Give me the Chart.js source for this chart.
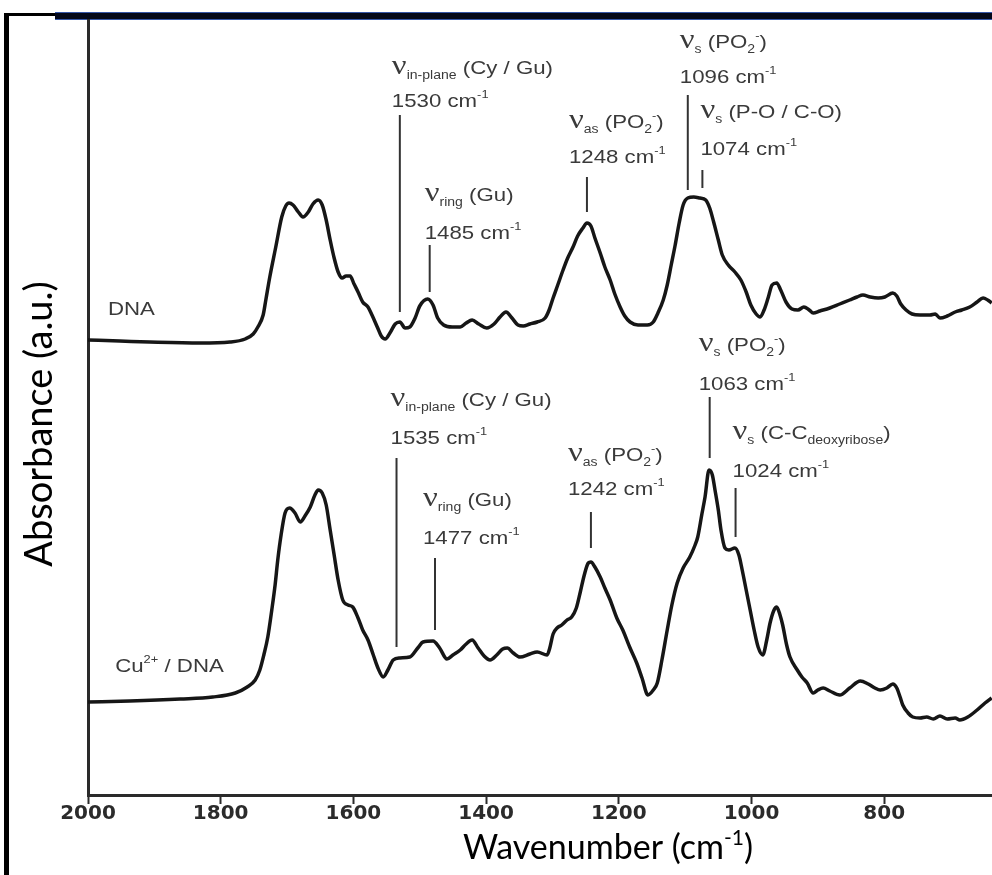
<!DOCTYPE html>
<html>
<head>
<meta charset="utf-8">
<script src="https://cdn.jsdelivr.net/npm/chart.js@4.4.1/dist/chart.umd.min.js"></script>
<style>
    html, body { margin: 0; padding: 0; background: #fff; }
    #wrap { width: 992px; height: 875px; }
</style>
</head>
<body>
<div id="wrap"><canvas id="ftir" width="992" height="875"></canvas></div>
<script>
// x axis ticks (cm-1)
const xTickValues = [2000, 1800, 1600, 1400, 1200, 1000, 800];

// DNA spectrum (upper trace)
const dnaWavenumber = [2000,1952,1907,1831,1786,1763,1751,1744,1736,1732,
    1726,1717,1708,1702,1697,1691,1683,1676,1668,1661,
    1653,1647,1641,1635,1629,1623,1617,1611,1605,1599,
    1593,1586,1578,1572,1564,1558,1552,1545,1537,1530,
    1522,1515,1507,1500,1488,1480,1473,1464,1451,1439,
    1430,1421,1411,1399,1388,1379,1370,1361,1352,1344,
    1334,1323,1311,1305,1299,1292,1284,1277,1269,1262,
    1254,1248,1242,1236,1228,1221,1213,1206,1198,1191,
    1183,1171,1157,1148,1141,1133,1127,1121,1115,1109,
    1103,1096,1087,1078,1069,1063,1057,1050,1044,1035,
    1025,1016,1008,1001,993,987,981,975,969,962,
    956,948,939,930,921,913,907,897,882,867,
    852,841,832,821,809,799,787,781,775,767,
    758,746,731,723,716,705,693,683,671,660,
    651,644,638];
const dnaAbsorbance = [4.55,4.54,4.53,4.52,4.53,4.56,4.61,4.68,4.80,4.95,
    5.18,5.48,5.78,5.89,5.92,5.90,5.83,5.78,5.83,5.91,
    5.95,5.90,5.75,5.55,5.37,5.23,5.17,5.19,5.19,5.11,
    5.03,4.93,4.88,4.80,4.68,4.59,4.56,4.62,4.71,4.73,
    4.67,4.68,4.77,4.89,4.96,4.90,4.77,4.70,4.68,4.68,
    4.72,4.75,4.71,4.67,4.71,4.78,4.83,4.77,4.70,4.69,
    4.71,4.73,4.77,4.85,4.97,5.10,5.25,5.37,5.48,5.59,
    5.67,5.72,5.69,5.57,5.42,5.28,5.15,5.01,4.88,4.79,
    4.73,4.70,4.70,4.73,4.82,4.95,5.10,5.30,5.50,5.72,
    5.90,5.97,5.98,5.97,5.95,5.87,5.73,5.55,5.40,5.30,
    5.23,5.15,5.03,4.90,4.81,4.78,4.85,4.97,5.10,5.12,
    5.05,4.93,4.86,4.85,4.88,4.85,4.82,4.84,4.87,4.91,
    4.95,4.98,5.00,4.98,4.97,4.98,5.02,4.99,4.91,4.85,
    4.81,4.80,4.80,4.81,4.77,4.79,4.83,4.85,4.88,4.93,
    4.97,4.95,4.92];

// Cu2+ / DNA spectrum (lower trace)
const cuWavenumber = [2000,1937,1861,1812,1778,1760,1748,1741,1735,1729,
    1723,1718,1714,1709,1703,1696,1688,1680,1673,1665,
    1658,1653,1647,1641,1635,1629,1623,1616,1608,1601,
    1593,1586,1578,1570,1563,1555,1548,1540,1530,1515,
    1503,1495,1480,1470,1459,1450,1439,1430,1421,1412,
    1403,1394,1384,1375,1368,1359,1349,1334,1323,1308,
    1304,1299,1293,1286,1278,1271,1264,1258,1252,1246,
    1242,1236,1228,1221,1213,1203,1194,1183,1173,1165,
    1156,1148,1142,1135,1127,1120,1112,1103,1093,1085,
    1081,1075,1070,1064,1059,1055,1050,1046,1040,1034,
    1025,1019,1014,1008,1002,996,990,983,977,972,
    966,962,957,953,947,942,931,924,916,907,
    900,892,882,867,852,836,824,814,806,796,
    787,781,776,772,764,757,746,736,726,716,
    705,693,686,674,660,648,638];
const cuAbsorbance = [0.93,0.94,0.96,0.98,1.02,1.08,1.15,1.25,1.40,1.58,
    1.85,2.10,2.35,2.60,2.82,2.87,2.82,2.73,2.79,2.88,
    3.00,3.05,3.02,2.90,2.65,2.40,2.15,1.95,1.90,1.88,
    1.77,1.65,1.55,1.40,1.27,1.18,1.25,1.35,1.37,1.38,
    1.47,1.53,1.54,1.47,1.36,1.40,1.45,1.51,1.55,1.47,
    1.39,1.35,1.40,1.46,1.47,1.42,1.38,1.41,1.43,1.40,
    1.47,1.61,1.67,1.70,1.75,1.78,1.87,2.03,2.20,2.32,
    2.33,2.28,2.18,2.07,1.95,1.77,1.65,1.47,1.32,1.17,
    1.00,1.05,1.12,1.35,1.65,1.90,2.12,2.27,2.38,2.50,
    2.58,2.80,2.98,3.25,3.20,3.05,2.85,2.65,2.47,2.45,
    2.47,2.40,2.25,2.05,1.85,1.65,1.48,1.40,1.55,1.72,
    1.85,1.88,1.80,1.70,1.50,1.38,1.25,1.18,1.12,1.02,
    1.05,1.07,1.04,1.00,1.07,1.14,1.11,1.07,1.05,1.07,
    1.11,1.07,0.98,0.90,0.82,0.78,0.77,0.78,0.76,0.79,
    0.76,0.77,0.75,0.78,0.85,0.92,0.97];

// band assignments
const bandWavenumber = [1530, 1485, 1248, 1096, 1074, 1535, 1477, 1242, 1063, 1024];
const bandMode = ['in-plane', 'ring', 'as', 's', 's', 'in-plane', 'ring', 'as', 's', 's'];
const bandGroup = ['Cy / Gu', 'Gu', 'PO2-', 'PO2-', 'P-O / C-O', 'Cy / Gu', 'Gu', 'PO2-', 'PO2-', 'C-C deoxyribose'];

// where each marker line starts/ends (a.u.) and where its text sits (px offsets)
const bandLayout = [
    { top: 6.80, bottom: 4.83, dx: -8,  numDy: -15, nameDy: -47 },
    { top: 5.50, bottom: 5.03, dx: -5,  numDy: -13, nameDy: -50 },
    { top: 6.18, bottom: 5.83, dx: -18, numDy: -21, nameDy: -55 },
    { top: 7.00, bottom: 6.05, dx: -8,  numDy: -19, nameDy: -53 },
    { top: 6.25, bottom: 6.07, dx: -2,  numDy: -22, nameDy: -58 },
    { top: 3.37, bottom: 1.48, dx: -6,  numDy: -21, nameDy: -58 },
    { top: 2.37, bottom: 1.65, dx: -12, numDy: -21, nameDy: -58 },
    { top: 2.83, bottom: 2.47, dx: -23, numDy: -24, nameDy: -57 },
    { top: 3.98, bottom: 3.37, dx: -11, numDy: -14, nameDy: -52 },
    { top: 3.07, bottom: 2.58, dx: -3,  numDy: -18, nameDy: -55 }
];

// trace names, placed in data units
const traceNames = [
    [['DNA', 'n']],
    [['Cu', 'n'], ['2+', 'sup'], [' / DNA', 'n']]
];
const traceNamePos = [{ x: 1970, y: 4.87 }, { x: 1959, y: 1.30 }];

const TEXT_COLOR = '#3a3a3a';
const STRETCH = 1.17; // lettering in the figure is a bit wide
const SEG_STYLE = {
    n:   { font: '19px "Liberation Sans"', dy: 0 },
    sub: { font: '12px "Liberation Sans"', dy: 5 },
    sup: { font: '11px "Liberation Sans"', dy: -9 },
    nu:  { font: '28px "Liberation Serif"', dy: 0 }
};

function groupSegments(group) {
    if (group === 'PO2-') {
        return [[' (PO', 'n'], ['2', 'sub'], ['-', 'sup'], [')', 'n']];
    }
    if (group === 'C-C deoxyribose') {
        return [[' (C-C', 'n'], ['deoxyribose', 'sub'], [')', 'n']];
    }
    return [[' (' + group + ')', 'n']];
}

function drawRich(ctx, segs, x, y, stretch) {
    ctx.save();
    ctx.translate(x, y);
    ctx.scale(stretch, 1);
    ctx.textBaseline = 'alphabetic';
    ctx.textAlign = 'left';
    let cx = 0;
    segs.forEach(([text, kind]) => {
        const st = SEG_STYLE[kind];
        ctx.font = st.font;
        ctx.fillText(text, cx, st.dy);
        cx += ctx.measureText(text).width;
    });
    ctx.restore();
}

const figurePlugin = {
    id: 'figure',
    beforeDraw(chart) {
        const ctx = chart.ctx;
        ctx.save();
        ctx.fillStyle = '#fff';
        ctx.fillRect(0, 0, chart.width, chart.height);
        // slide frame
        ctx.fillStyle = '#000';
        ctx.fillRect(4, 13, 5, chart.height - 13);
        ctx.fillRect(4, 13, 60, 3);
        ctx.fillStyle = '#03081a';
        ctx.fillRect(55, 12, chart.width - 55, 8);
        ctx.fillStyle = '#3556a8';
        ctx.fillRect(55, 12, chart.width - 55, 1);
        ctx.fillRect(55, 19, chart.width - 55, 1);
        ctx.restore();
    },
    afterDraw(chart) {
        const ctx = chart.ctx;
        const xs = chart.scales.x;
        const ys = chart.scales.y;
        ctx.save();

        // band markers
        ctx.strokeStyle = '#333';
        ctx.lineWidth = 2;
        ctx.fillStyle = TEXT_COLOR;
        bandWavenumber.forEach((wn, i) => {
            const lay = bandLayout[i];
            const px = xs.getPixelForValue(wn);
            const top = ys.getPixelForValue(lay.top);
            const bottom = ys.getPixelForValue(lay.bottom);
            ctx.beginPath();
            ctx.moveTo(px, top);
            ctx.lineTo(px, bottom);
            ctx.stroke();
            drawRich(ctx, [[wn + ' cm', 'n'], ['-1', 'sup']], px + lay.dx, top + lay.numDy + 7, STRETCH);
            const name = [['ν', 'nu'], [bandMode[i], 'sub']].concat(groupSegments(bandGroup[i]));
            drawRich(ctx, name, px + lay.dx, top + lay.nameDy + 6, STRETCH);
        });

        // trace names
        traceNames.forEach((segs, i) => {
            const p = traceNamePos[i];
            drawRich(ctx, segs, xs.getPixelForValue(p.x), ys.getPixelForValue(p.y) + 7, STRETCH);
        });

        // axis titles
        ctx.fillStyle = '#000';
        ctx.textBaseline = 'middle';
        ctx.textAlign = 'center';
        ctx.font = '38px Lato';
        ctx.save();
        ctx.translate(40, 424);
        ctx.rotate(-Math.PI / 2);
        ctx.fillText('Absorbance (a.u.)', 0, 0);
        ctx.restore();

        ctx.textAlign = 'left';
        ctx.textBaseline = 'alphabetic';
        const main = 'Wavenumber (cm';
        ctx.font = '34px Lato';
        const w1 = ctx.measureText(main).width;
        ctx.font = '21px Lato';
        const w2 = ctx.measureText('-1').width;
        ctx.font = '34px Lato';
        const w3 = ctx.measureText(')').width;
        const tx = 608 - (w1 + w2 + w3) / 2;
        ctx.fillText(main, tx, 859);
        ctx.font = '21px Lato';
        ctx.fillText('-1', tx + w1, 845);
        ctx.font = '34px Lato';
        ctx.fillText(')', tx + w1 + w2, 859);
        ctx.restore();
    }
};

new Chart(document.getElementById('ftir'), {
    type: 'line',
    data: {
        datasets: [
            {
                label: 'DNA',
                data: dnaWavenumber.map((x, i) => ({ x, y: dnaAbsorbance[i] })),
                borderColor: '#161616',
                borderWidth: 3.5,
                pointRadius: 0,
                cubicInterpolationMode: 'monotone',
                fill: false
            },
            {
                label: 'Cu2+ / DNA',
                data: cuWavenumber.map((x, i) => ({ x, y: cuAbsorbance[i] })),
                borderColor: '#161616',
                borderWidth: 3.5,
                pointRadius: 0,
                cubicInterpolationMode: 'monotone',
                fill: false
            }
        ]
    },
    options: {
        responsive: false,
        animation: false,
        layout: { padding: { top: 20, left: 0, right: 0, bottom: 0 } },
        plugins: {
            legend: { display: false },
            tooltip: { enabled: false }
        },
        scales: {
            x: {
                type: 'linear',
                reverse: true,
                min: 637.5,
                max: 2000,
                afterBuildTicks: s => { s.ticks = xTickValues.map(v => ({ value: v })); },
                afterFit: s => { s.height = 80; },
                border: { display: true, color: '#2a2a2a', width: 3 },
                grid: { drawOnChartArea: false, drawTicks: true, tickLength: 9, tickColor: '#2a2a2a', tickWidth: 2 },
                ticks: {
                    color: '#2b2b2b',
                    padding: 0,
                    maxRotation: 0,
                    callback: v => String(v),
                    font: { family: 'DejaVu Sans', weight: 'bold', size: 20, lineHeight: 1 }
                }
            },
            y: {
                type: 'linear',
                min: 0,
                max: 7.75,
                afterFit: s => { s.width = 88; },
                border: { display: true, color: '#2a2a2a', width: 3 },
                grid: { drawOnChartArea: false, drawTicks: false },
                ticks: { display: false }
            }
        }
    },
    plugins: [figurePlugin]
});
</script>
</body>
</html>
